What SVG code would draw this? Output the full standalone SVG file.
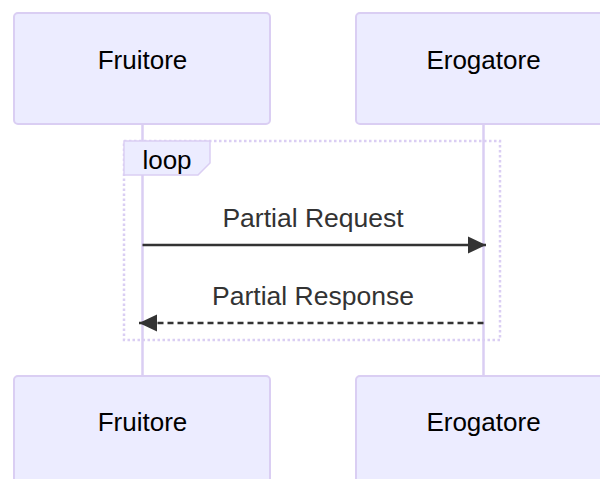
<svg xmlns="http://www.w3.org/2000/svg" width="600" height="479" viewBox="0 0 600 479">
<style>
.actor{fill:#ECECFF;stroke:#DACEF3;stroke-width:2}
.atext{font-family:"Liberation Sans",Arial,sans-serif;font-size:26px;fill:#000;text-anchor:middle}
.life{stroke:#DACEF3;stroke-width:2.5}
.msg{stroke:#333;stroke-width:2.5;fill:none}
.mtext{font-family:"Liberation Sans",Arial,sans-serif;font-size:26.5px;fill:#333;text-anchor:middle}
.loop{fill:none;stroke:#DACEF3;stroke-width:2.5;stroke-dasharray:2.5,2.5}
.lbl{fill:#ECECFF;stroke:#DACEF3;stroke-width:1.5}
</style>
<defs>
<marker id="ah" markerWidth="18" markerHeight="18" refX="18" refY="9" orient="auto" markerUnits="userSpaceOnUse">
<path d="M0,0.5 L18,9 L0,17.5 Z" fill="#333"/>
</marker>
</defs>
<g id="lifelines">
<line class="life" x1="142.5" y1="124" x2="142.5" y2="376"/>
<line class="life" x1="483.5" y1="124" x2="483.5" y2="376"/>
</g>
<g id="actor-fruitore-top">
<rect class="actor" x="14" y="13" width="256" height="111" rx="4"/>
<text class="atext" x="142.5" y="69">Fruitore</text>
</g>
<g id="actor-erogatore-top">
<rect class="actor" x="356" y="13" width="256" height="111" rx="4"/>
<text class="atext" x="483.5" y="69">Erogatore</text>
</g>
<g id="loop">
<rect class="loop" x="124" y="141" width="376" height="199"/>
<polygon class="lbl" points="124,141 210,141 210,163 198,175 124,175"/>
<text class="atext" x="167" y="169">loop</text>
</g>
<g id="connectors">
<line class="msg" x1="142.5" y1="245" x2="486" y2="245" marker-end="url(#ah)"/>
<line class="msg" x1="483.5" y1="323" x2="139" y2="323" stroke-dasharray="6,4" marker-end="url(#ah)"/>
<text class="mtext" x="313" y="227">Partial Request</text>
<text class="mtext" x="313" y="305">Partial Response</text>
</g>
<g id="actor-fruitore-bottom">
<rect class="actor" x="14" y="376" width="256" height="111" rx="4"/>
<text class="atext" x="142.5" y="431">Fruitore</text>
</g>
<g id="actor-erogatore-bottom">
<rect class="actor" x="356" y="376" width="256" height="111" rx="4"/>
<text class="atext" x="483.5" y="431">Erogatore</text>
</g>
</svg>
